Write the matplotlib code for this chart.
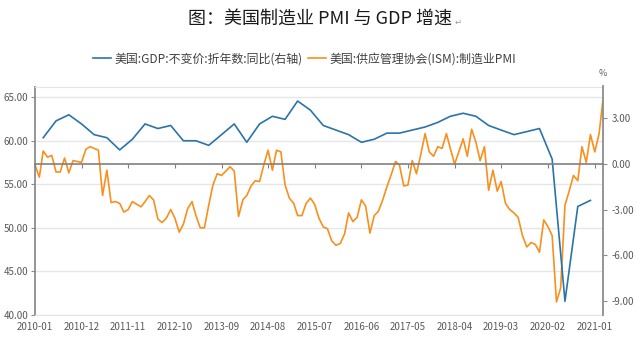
import matplotlib
matplotlib.use('Agg')
import matplotlib.pyplot as plt
import pandas as pd

plt.rcParams['font.family'] = ['Noto Sans CJK SC', 'DejaVu Sans']

# ISM 制造业PMI，月度 2010-01 ~ 2021-03
pmi = [57.2, 55.8, 58.8, 58.1, 58.3, 56.4, 56.4, 58.0, 56.3, 57.7, 57.6, 57.5,
       59.0, 59.3, 59.1, 58.9, 53.7, 56.6, 52.9, 53.0, 52.8, 51.8, 52.1, 53.0,
       52.7, 52.4, 53.0, 53.7, 53.2, 51.0, 50.6, 51.1, 52.1, 51.1, 49.5, 50.4,
       52.2, 53.0, 51.4, 50.0, 50.0, 52.6, 54.9, 56.2, 56.0, 56.5, 57.0, 56.5,
       51.3, 53.2, 53.7, 54.8, 55.4, 55.3, 57.2, 58.9, 56.6, 58.9, 58.7, 54.9,
       53.4, 52.8, 51.4, 51.4, 52.8, 53.4, 52.7, 51.1, 50.1, 49.9, 48.5, 48.0,
       48.2, 49.3, 51.7, 50.7, 51.2, 53.2, 52.5, 49.4, 51.4, 51.9, 53.2, 54.7,
       56.1, 57.6, 57.2, 54.8, 54.9, 57.7, 56.2, 58.4, 60.8, 58.7, 58.2, 59.3,
       59.1, 60.8, 59.1, 57.3, 58.7, 60.2, 58.2, 61.3, 59.8, 57.7, 59.3, 54.3,
       56.6, 54.2, 55.3, 52.8, 52.1, 51.7, 51.2, 49.1, 47.8, 48.3, 48.1, 47.2,
       50.9, 50.1, 49.1, 41.5, 43.1, 52.6, 54.2, 56.0, 55.4, 59.3, 57.5, 60.7,
       58.7, 60.8, 64.7]

# 美国GDP不变价同比，季度 2010Q1 ~ 2020Q4
gdp = [1.7, 2.8, 3.2, 2.6,
       1.9, 1.7, 0.9, 1.6,
       2.6, 2.3, 2.5, 1.5,
       1.5, 1.2, 1.9, 2.6,
       1.4, 2.6, 3.1, 2.9,
       4.1, 3.5, 2.5, 2.2,
       1.9, 1.4, 1.6, 2.0,
       2.0, 2.2, 2.4, 2.7,
       3.1, 3.3, 3.1, 2.5,
       2.2, 1.9, 2.1, 2.3,
       0.3, -9.0, -2.8, -2.4]

left_ticks = [40, 45, 50, 55, 60, 65]
right_ticks = [-9, -6, -3, 0, 3]

pmi_dates = pd.date_range('2010-01-01', periods=len(pmi), freq='MS')
gdp_dates = pd.date_range('2010-03-01', periods=len(gdp), freq='3MS')
xticks = pmi_dates[::11]
xlabels = [d.strftime('%Y-%m') for d in xticks]

blue = '#2b74a8'
orange = '#f7901e'
grid_c = '#e6e6e6'
axis_c = '#8c8c8c'
text_c = '#595959'

fig = plt.figure(figsize=(6.4, 3.54), dpi=100)
ax = fig.add_axes([35 / 640, 1 - 315 / 354, 568 / 640, 228.5 / 354])
ax2 = ax.twinx()

l2, = ax.plot(pmi_dates, pmi, color=orange, lw=1.2, label='美国:供应管理协会(ISM):制造业PMI')
l1, = ax2.plot(gdp_dates, gdp, color=blue, lw=1.2, label='美国:GDP:不变价:折年数:同比(右轴)')

ax.set_xlim(pmi_dates[0], pmi_dates[-1])
ax.set_ylim(40, 66.2)
ax2.set_ylim(-9.9, 5.05)

ax.set_yticks(left_ticks)
ax.set_yticklabels(['%.2f' % v for v in left_ticks])
ax2.set_yticks(right_ticks)
ax2.set_yticklabels(['%.2f' % v for v in right_ticks])

ax.set_xticks(xticks)
ax.set_xticklabels(xlabels)
ax.tick_params(axis='x', length=0, pad=5, labelsize=7, labelcolor=text_c)
ax.tick_params(axis='y', length=3, width=0.8, color=axis_c, pad=2,
               labelsize=7, labelcolor=text_c)
ax2.tick_params(axis='y', length=3, width=0.8, color=axis_c, pad=3,
                labelsize=7, labelcolor=text_c)

ax.grid(axis='y', color=grid_c, lw=1)
ax.set_axisbelow(True)

for s in ['top', 'bottom']:
    ax.spines[s].set_color(grid_c)
ax.spines['right'].set_visible(False)
ax.spines['left'].set_color(axis_c)
ax.spines['left'].set_linewidth(1.3)

# 右轴零线作为横轴
ax2.xaxis.set_visible(True)
ax2.spines['bottom'].set_position(('data', 0))
ax2.spines['bottom'].set_color('#808080')
ax2.spines['bottom'].set_linewidth(1.2)
ax2.tick_params(axis='x', bottom=True, top=False, labelbottom=False,
                length=3, width=0.8, color='#808080', direction='out')
ax2.spines['top'].set_visible(False)
ax2.spines['left'].set_visible(False)
ax2.spines['right'].set_color(axis_c)
ax2.spines['right'].set_linewidth(1.3)

fig.text(603 / 640, 1 - 73 / 354, '%', ha='center', va='center', fontsize=6.5, color=text_c)

fig.text(0.5, 1 - 19 / 354, '图：美国制造业 PMI 与 GDP 增速', ha='center', va='center',
         fontsize=13, color='#1a1a1a')
fig.text(455 / 640, 1 - 22 / 354, '↵', ha='left', va='center', fontsize=6,
         color='#999999', family=['DejaVu Sans'])

fig.legend(handles=[l1, l2], loc='center', bbox_to_anchor=(304.5 / 640, 1 - 59 / 354),
           ncol=2, frameon=False, fontsize=8.6, handlelength=1.5,
           handletextpad=0.3, columnspacing=0.5, labelcolor='#404040')

fig.savefig('out.png', dpi=100)
